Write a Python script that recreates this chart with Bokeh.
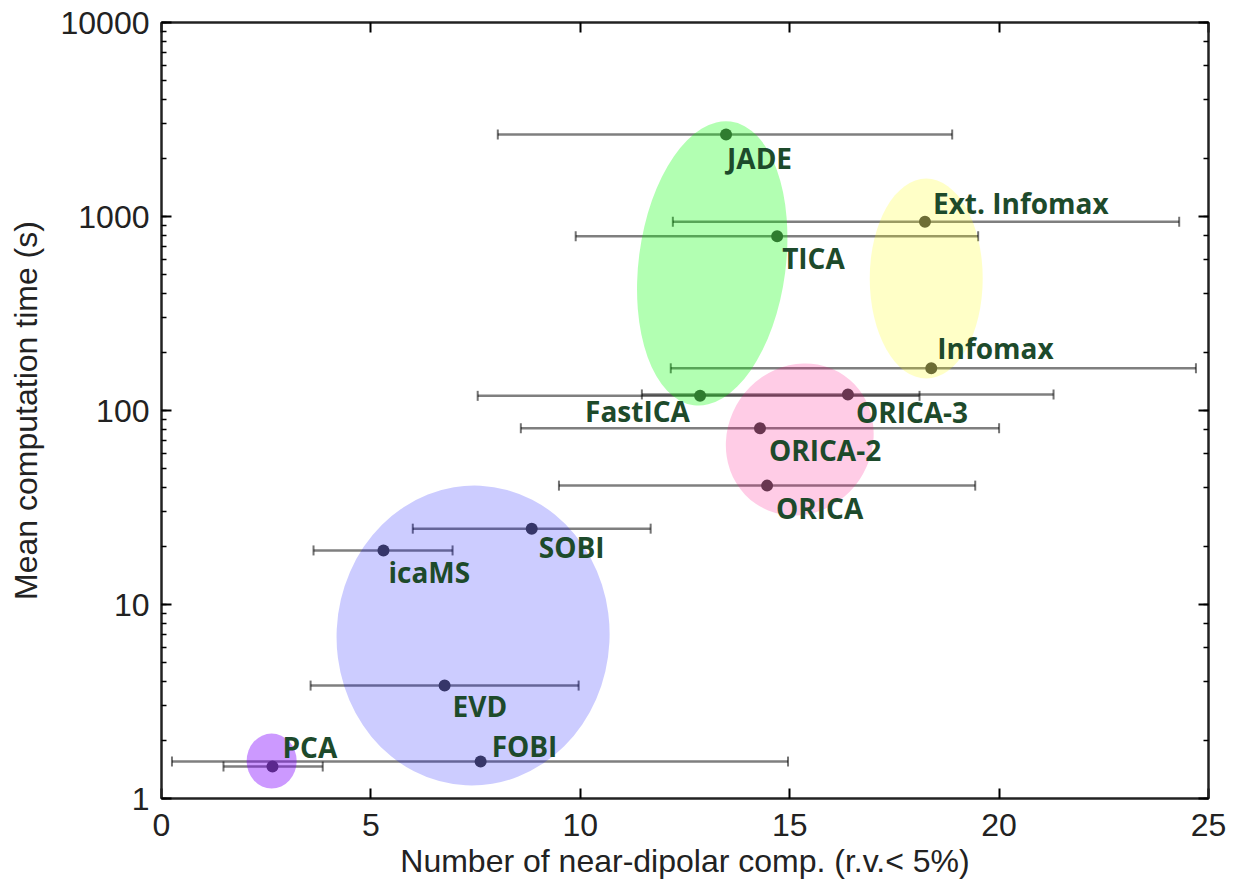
from bokeh.plotting import figure
from bokeh.models import ColumnDataSource, LinearAxis, LogAxis, SingleIntervalTicker, BasicTickFormatter
from bokeh.core.properties import value
from bokeh.embed import file_html
from bokeh.resources import INLINE
import math

# ---- data ----
methods = ["JADE", "Ext. Infomax", "TICA", "Infomax", "FastICA", "ORICA-3",
           "ORICA-2", "ORICA", "SOBI", "icaMS", "EVD", "FOBI", "PCA"]
n_dipolar = [13.48, 18.23, 14.70, 18.38, 12.86, 16.39, 14.29, 14.46, 8.84, 5.30, 6.76, 7.62, 2.65]
time_mean = [2650, 940, 790, 165, 119, 121, 81, 41, 24.6, 19.0, 3.82, 1.55, 1.46]
n_low = [8.03, 12.21, 9.89, 12.16, 7.55, 11.47, 8.58, 9.49, 6.00, 3.63, 3.56, 0.25, 1.48]
n_high = [18.88, 24.30, 19.50, 24.70, 18.10, 21.30, 20.00, 19.43, 11.68, 6.95, 9.96, 14.96, 3.85]

# label offsets (screen pixels, relative to each point)
lab_dx = [1, 8, 5, 6, -115, 8, 9, 9, 7, 5, 8, 11, 10]
lab_dy = [24, -19, 22, -20, 15, 18, 22, 22, 18, 22, 20, -16, -20]

# group ellipses: centre (data), size (screen px), angle, colour, alpha
grp_x = [13.15, 18.26, 15.24, 7.44, 2.63]
grp_y = [573, 479, 70.9, 6.92, 1.56]
grp_w = [147, 113, 144, 273, 50]
grp_h = [286, 200, 156, 300, 55]
grp_angle = [-0.13, 0.0, -0.6, -0.05, 0.0]
grp_color = ["#00ff00", "#ffff00", "#ff0080", "#0000ff", "#8000ff"]
grp_alpha = [0.30, 0.22, 0.20, 0.20, 0.40]

x_ticks_interval = 5

p = figure(width=1238, height=886, x_range=(0, 25), y_range=(1, 10000),
           y_axis_type="log", output_backend="svg", toolbar_location=None,
           min_border_left=161, min_border_right=30, min_border_top=22,
           min_border_bottom=88, background_fill_color="white",
           border_fill_color="white")
p.grid.visible = False
p.outline_line_color = "#222222"
p.outline_line_width = 2

src = ColumnDataSource(dict(x=n_dipolar, y=time_mean, lo=n_low, hi=n_high,
                            name=methods, dx=lab_dx, dy=lab_dy))

# error bars
p.segment(x0="lo", y0="y", x1="hi", y1="y", source=src,
          line_color="black", line_alpha=0.5, line_width=2.5)
p.scatter(x="lo", y="y", source=src, marker="dash", angle=math.pi / 2, size=10,
          line_color="black", line_alpha=0.55, line_width=2)
p.scatter(x="hi", y="y", source=src, marker="dash", angle=math.pi / 2, size=10,
          line_color="black", line_alpha=0.55, line_width=2)
# points
p.scatter(x="x", y="y", source=src, marker="circle", size=12,
          fill_color="#444444", line_color=None)

# group ellipses
gsrc = ColumnDataSource(dict(x=grp_x, y=grp_y, w=grp_w, h=grp_h, a=grp_angle,
                             c=grp_color, al=grp_alpha))
p.ellipse(x="x", y="y", width="w", height="h", angle="a", source=gsrc,
          width_units="screen", height_units="screen",
          fill_color="c", fill_alpha="al", line_color=None)

# labels
p.text(x="x", y="y", text="name", x_offset="dx", y_offset="dy", source=src,
       text_font=value("Open Sans"), text_font_style="bold",
       text_font_size="28px", text_color="#1d4a2b",
       text_align="left", text_baseline="middle")

# axes styling
for ax in (p.xaxis[0], p.yaxis[0]):
    ax.axis_line_color = "#222222"
    ax.axis_line_width = 2
    ax.major_tick_in = 10
    ax.major_tick_out = 0
    ax.minor_tick_in = 5
    ax.minor_tick_out = 0
    ax.major_tick_line_width = 2
    ax.minor_tick_line_width = 1.5
    ax.major_label_text_font = "Liberation Sans"
    ax.major_label_text_font_size = "32px"
    ax.major_label_text_color = "#222222"
    ax.axis_label_text_font = "Liberation Sans"
    ax.axis_label_text_font_size = "32px"
    ax.axis_label_text_font_style = "normal"
    ax.axis_label_text_color = "#222222"

p.xaxis.ticker = SingleIntervalTicker(interval=x_ticks_interval, num_minor_ticks=0)
p.xaxis.major_label_standoff = 15
p.xaxis.axis_label = "Number of near-dipolar comp. (r.v.< 5%)"
p.xaxis.axis_label_standoff = 4
p.yaxis.formatter = BasicTickFormatter(use_scientific=False)
p.yaxis.major_label_standoff = 12
p.yaxis.axis_label = "Mean computation time (s)"
p.yaxis.axis_label_standoff = 14

# mirrored tick marks on top and right (no labels drawn)
top = LinearAxis(ticker=SingleIntervalTicker(interval=x_ticks_interval, num_minor_ticks=0),
                 major_label_text_font_size="4px", major_label_text_color=None,
                 major_label_standoff=0,
                 major_tick_in=10, major_tick_out=0, major_tick_line_width=2,
                 axis_line_color="#222222", axis_line_width=2)
p.add_layout(top, "above")
right = LogAxis(major_label_text_font_size="4px", major_label_text_color=None,
                major_label_standoff=0,
                major_tick_in=10, major_tick_out=0, minor_tick_in=5, minor_tick_out=0,
                major_tick_line_width=2, minor_tick_line_width=1.5,
                axis_line_color="#222222", axis_line_width=2)
p.add_layout(right, "right")

open("out.html", "w").write(file_html(p, INLINE))
